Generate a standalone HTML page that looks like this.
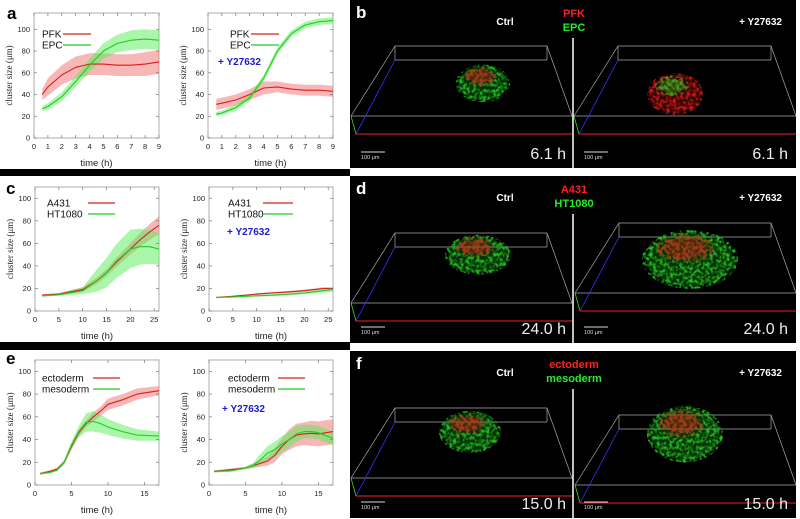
<!DOCTYPE html>
<html><head><meta charset="utf-8"><style>
html,body{margin:0;padding:0;background:#fff;}
svg{display:block;font-family:"Liberation Sans",sans-serif;}
.tk{font-size:7.5px;fill:#222;}
.yl{font-family:"Liberation Serif",serif;font-size:9px;fill:#222;}
.xl{font-size:9.5px;fill:#222;}
.lg{font-size:10px;fill:#111;}
.drug{font-size:10px;font-weight:bold;fill:#1a1ad0;}
.pl{font-size:17px;font-weight:bold;}
</style></head><body>
<svg id="fig" width="800" height="519" viewBox="0 0 800 519" xmlns="http://www.w3.org/2000/svg">
<defs>
<filter id="grain" x="-20%" y="-20%" width="140%" height="140%"><feTurbulence type="fractalNoise" baseFrequency="0.3" numOctaves="2" seed="3" result="n"/><feColorMatrix in="n" type="matrix" values="0 0 0 0 0 0 0 0 0 0 0 0 0 0 0 0 0 0 3 -1.2" result="a"/><feComposite in="SourceGraphic" in2="a" operator="in"/></filter>
</defs>
<rect x="0" y="169" width="350" height="7" fill="#000"/>
<rect x="0" y="342" width="350" height="8" fill="#000"/>
<g id="charts"></g>
<g id="images"></g>
</svg>
<script>
// ---- chart data ----
const aTime=[0.6,1,2,3,4,5,6,7,8,9];
const aCtrlPFK=[40,47,58,65,68,68,67,67,68,70];
const aCtrlPFKErr=[5,8,9,10,10,10,10,10,11,11];
const aCtrlEPC=[27,29,38,52,67,80,87,90,91,90];
const aCtrlEPCErr=[2,3,4,5,6,7,8,9,9,9];
const aDrugPFK=[31,32,35,40,46,47,45,44,44,43];
const aDrugPFKErr=[5,5,5,5,6,5,5,5,5,5];
const aDrugEPC=[22,23,28,37,55,80,96,104,107,108];
const aDrugEPCErr=[2,2,3,3,3,3,3,3,3,3];
const aXTicks=[0,1,2,3,4,5,6,7,8,9];

const cTime=[1.5,5,10,13,15,17,20,22,24,26];
const cCtrlA431=[14,15,19,27,34,43,55,63,70,76];
const cCtrlA431Err=[1,1,2,3,3,4,5,6,7,8];
const cCtrlHT=[13.5,14.5,18,27,34,44,55,57,57,55];
const cCtrlHTErr=[1,1,3,10,13,15,17,16,15,14];
const cDrugA431=[12,13,15,16,16.5,17,18,19,20,20];
const cDrugA431Err=[0.6,0.6,0.7,0.8,0.8,0.9,1,1,1.2,1.2];
const cDrugHT=[12,12.5,13.5,14,14.5,15,16,17,18,19];
const cDrugHTErr=[0.6,0.6,0.8,0.9,1,1,1.2,1.4,1.6,1.8];
const cXTicks=[0,5,10,15,20,25];

const eCtrlTime=[0.7,2,3,4,5,6,7,8,9,10,12,14,17];
const eCtrlEcto=[10,12,14,20,34,46,54,60,65,71,75,80,83];
const eCtrlEctoErr=[1,1,1,2,3,3,3,4,4,5,5,5,4];
const eCtrlMeso=[10,11,13,20,35,47,55,56,54,51,47,44,43];
const eCtrlMesoErr=[1,1,1,2,3,5,8,9,8,7,6,5,4];
const eDrugTime=[0.7,3,5,6,7,8,9,10,11,12,13,14,15,17];
const eDrugEcto=[12,13.5,15,17,19,21,26,34,40,44,45,45.5,45,47];
const eDrugEctoErr=[1,1,1,2,3,4,6,7,9,10,10,11,11,11];
const eDrugMeso=[12,12.5,15,17,22,28,31,36,40,45,47,47,46,41];
const eDrugMesoErr=[1,1,1,2,5,6,7,7,7,7,6,6,6,6];
const eXTicks=[0,5,10,15];
const yTicks=[0,20,40,60,80,100];

const NS="http://www.w3.org/2000/svg";
function mk(tag,attrs,parent,text){const e=document.createElementNS(NS,tag);for(const k in attrs)e.setAttribute(k,attrs[k]);if(text!==undefined)e.textContent=text;parent.appendChild(e);return e;}
const charts=document.getElementById('charts');

function chart(name,box,xmax,ymax,xticks,time,series,legend,legY,legX,lineX,drug,xlabelY){
  const g=mk('g',{},charts);
  
  
  const sx=v=>box.x0+(v/xmax)*(box.x1-box.x0);
  const sy=v=>box.y1-(v/ymax)*(box.y1-box.y0);
  const fr=mk('rect',{x:box.x0,y:box.y0,width:box.x1-box.x0,height:box.y1-box.y0,fill:'none',stroke:'#999','stroke-width':0.8},g);
  
  
  series.forEach(s=>{
    let d='';
    time.forEach((t,i)=>{d+=(i?'L':'M')+sx(t).toFixed(1)+','+sy(s.v[i]+s.e[i]).toFixed(1);});
    for(let i=time.length-1;i>=0;i--)d+='L'+sx(time[i]).toFixed(1)+','+sy(s.v[i]-s.e[i]).toFixed(1);
    const b=mk('path',{d:d+'Z',fill:s.band,'fill-opacity':0.5,stroke:'none'},g);
    
    
  });
  series.forEach(s=>{
    const pts=time.map((t,i)=>sx(t).toFixed(1)+','+sy(s.v[i]).toFixed(1)).join(' ');
    const l=mk('polyline',{points:pts,fill:'none',stroke:s.col,'stroke-width':1.1,'stroke-linejoin':'round'},g);
    
    
  });
  yTicks.forEach(v=>{
    const y=sy(v);
    mk('line',{x1:box.x0,x2:box.x0+3,y1:y,y2:y,stroke:'#777','stroke-width':0.7},g);
    mk('line',{x1:box.x1,x2:box.x1-3,y1:y,y2:y,stroke:'#777','stroke-width':0.7},g);
    const t=mk('text',{x:box.x0-4,y:y+2.5,'text-anchor':'end',class:'tk'},g,String(v));
    
    
  });
  xticks.forEach(v=>{
    const x=sx(v);
    mk('line',{x1:x,x2:x,y1:box.y1,y2:box.y1-3,stroke:'#777','stroke-width':0.7},g);
    mk('line',{x1:x,x2:x,y1:box.y0,y2:box.y0+3,stroke:'#777','stroke-width':0.7},g);
    const t=mk('text',{x:x,y:box.y1+11,'text-anchor':'middle',class:'tk'},g,String(v));
    
    
  });
  const yt=mk('text',{x:0,y:0,transform:`translate(${box.x0-22},${(box.y0+box.y1)/2}) rotate(-90)`,'text-anchor':'middle',class:'yl'},g,'cluster size (μm)');
  
  
  const xt=mk('text',{x:(box.x0+box.x1)/2,y:xlabelY,'text-anchor':'middle',class:'xl'},g,'time (h)');
  
  
  series.forEach((s,i)=>{
    const y=legY+i*11;
    const lt=mk('text',{x:legX,y:y+3.5,class:'lg'},g,s.label);
    
    
    const ll=mk('line',{x1:lineX[0],x2:lineX[1],y1:y,y2:y,stroke:s.col,'stroke-width':1.3},g);
    
    
  });
  if(drug){
    const dt=mk('text',{x:drug[0],y:drug[1],class:'drug'},g,'+ Y27632');
    
    
  }
}
const R='#d42020',RB='#f07070',G='#22cc22',GB='#55ee55';
chart('chart-a-ctrl',{x0:34,x1:159,y0:13,y1:138},9,115,aXTicks,aTime,
 [{id:'pfk',label:'PFK',v:aCtrlPFK,e:aCtrlPFKErr,col:R,band:RB},{id:'epc',label:'EPC',v:aCtrlEPC,e:aCtrlEPCErr,col:G,band:GB}],
 null,34,42,[63,91],null,166);
chart('chart-a-drug',{x0:208,x1:333,y0:13,y1:138},9,115,aXTicks,aTime,
 [{id:'pfk',label:'PFK',v:aDrugPFK,e:aDrugPFKErr,col:R,band:RB},{id:'epc',label:'EPC',v:aDrugEPC,e:aDrugEPCErr,col:G,band:GB}],
 null,34,230,[251,279],[218,65],166);
chart('chart-c-ctrl',{x0:35,x1:159,y0:187,y1:311},26,110,cXTicks,cTime,
 [{id:'a431',label:'A431',v:cCtrlA431,e:cCtrlA431Err,col:R,band:RB},{id:'ht1080',label:'HT1080',v:cCtrlHT,e:cCtrlHTErr,col:G,band:GB}],
 null,203,47,[88,115],null,339);
chart('chart-c-drug',{x0:209,x1:333,y0:187,y1:311},26,110,cXTicks,cTime,
 [{id:'a431',label:'A431',v:cDrugA431,e:cDrugA431Err,col:R,band:RB},{id:'ht1080',label:'HT1080',v:cDrugHT,e:cDrugHTErr,col:G,band:GB}],
 null,203,228,[263,293],[227,235],339);
chart('chart-e-ctrl',{x0:35,x1:159,y0:360,y1:485},17,110,eXTicks,eCtrlTime,
 [{id:'ectoderm',label:'ectoderm',v:eCtrlEcto,e:eCtrlEctoErr,col:R,band:RB},{id:'mesoderm',label:'mesoderm',v:eCtrlMeso,e:eCtrlMesoErr,col:G,band:GB}],
 null,378,42,[93,120],null,513);
chart('chart-e-drug',{x0:209,x1:333,y0:360,y1:485},17,110,eXTicks,eDrugTime,
 [{id:'ectoderm',label:'ectoderm',v:eDrugEcto,e:eDrugEctoErr,col:R,band:RB},{id:'mesoderm',label:'mesoderm',v:eDrugMeso,e:eDrugMesoErr,col:G,band:GB}],
 null,378,228,[278,305],[222,412],513);
[['a',7,19],['c',6,194],['e',6,364]].forEach(p=>{
  const t=mk('text',{x:p[1],y:p[2],class:'pl',fill:'#000'},charts,p[0]);
  
  
});

// ---- microscopy panels ----
const images=document.getElementById('images');
function cube(g,ox,oy,w){
  const L=ox,Rr=ox+w;
  mk('polyline',{points:`${L},${oy+70} ${L+44},${oy} ${Rr-25},${oy} ${Rr},${oy+70} ${L},${oy+70}`,fill:'none',stroke:'#aaa','stroke-width':0.7},g);
  mk('line',{x1:L+44,y1:oy+14,x2:Rr-25,y2:oy+14,stroke:'#aaa','stroke-width':0.7},g);
  mk('line',{x1:L+44,y1:oy,x2:L+44,y2:oy+14,stroke:'#aaa','stroke-width':0.7},g);
  mk('line',{x1:Rr-25,y1:oy,x2:Rr-25,y2:oy+14,stroke:'#aaa','stroke-width':0.7},g);
  mk('line',{x1:L+44,y1:oy+14,x2:L+5,y2:oy+88,stroke:'#3333ff','stroke-width':0.8},g);
  mk('line',{x1:L,y1:oy+70,x2:L+5,y2:oy+88,stroke:'#33dd33','stroke-width':0.8},g);
  mk('line',{x1:L+5,y1:oy+88,x2:Rr,y2:oy+88,stroke:'#ee2222','stroke-width':0.9},g);
}
function blob(g,cx,cy,rx,ry,redFirst){
  const a=redFirst?'#d01818':'#20c020', b=redFirst?'#20c020':'#d01818';
  mk('ellipse',{cx:cx,cy:cy+ry*0.3,rx:rx,ry:ry*1.05,fill:b,filter:'url(#grain)'},g);
  mk('ellipse',{cx:cx,cy:cy+ry*0.3,rx:rx*0.9,ry:ry*0.95,fill:b,'fill-opacity':0.25},g);
  mk('ellipse',{cx:cx-rx*0.1,cy:cy-ry*0.1,rx:rx*0.6,ry:ry*0.5,fill:a,'fill-opacity':0.8,filter:'url(#grain)'},g);
  mk('ellipse',{cx:cx-rx*0.1,cy:cy-ry*0.1,rx:rx*0.45,ry:ry*0.35,fill:a,'fill-opacity':0.35},g);
}
function panel(letter,y0,h,names,redName,greenName,time,blobs,cubes){
  const g=mk('g',{},images);
  
  
  mk('rect',{x:350,y:y0,width:446,height:h,fill:'#000'},g);
  cubes.forEach(c=>cube(g,c[0],y0+c[1],c[2]));
  blobs.forEach(b=>blob(g,b[0],y0+b[1],b[2],b[3],b[4]));
  mk('line',{x1:573,x2:573,y1:y0+38,y2:y0+h,stroke:'#fff','stroke-width':1.5},g);
  const pl=mk('text',{x:356,y:y0+18,class:'pl',fill:'#fff'},g,letter);
  
  
  const c1=mk('text',{x:505,y:y0+25,'text-anchor':'middle','font-size':'10px','font-weight':'bold',fill:'#fff'},g,'Ctrl');
  
  
  const c2=mk('text',{x:782,y:y0+25,'text-anchor':'end','font-size':'10px','font-weight':'bold',fill:'#fff'},g,'+ Y27632');
  
  
  const r=mk('text',{x:574,y:y0+17,'text-anchor':'middle','font-size':'11px','font-weight':'bold',fill:'#ff2020'},g,redName);
  
  
  const gr=mk('text',{x:574,y:y0+31,'text-anchor':'middle','font-size':'11px','font-weight':'bold',fill:'#22ee22'},g,greenName);
  
  
  [[361,566],[584,788]].forEach((p,i)=>{
    mk('line',{x1:p[0],x2:p[0]+24,y1:y0+h-16,y2:y0+h-16,stroke:'#ddd','stroke-width':1},g);
    const s=mk('text',{x:p[0],y:y0+h-9,'font-size':'5.5px',fill:'#ddd'},g,'100 μm');
    
    
    const t=mk('text',{x:p[1],y:y0+h-9,'text-anchor':'end','font-size':'16px',fill:'#eee'},g,time);
    
    
  });
}
panel('b',0,168,null,'PFK','EPC','6.1 h',
 [[483,78,27,18,true],[675,88,28,20,false]],
 [[351,46,221],[574,46,222]]);
panel('d',176,167,null,'A431','HT1080','24.0 h',
 [[478,73,33,19,true],[690,75,48,28,true]],
 [[351,57,221],[575,47,221]]);
panel('f',351,167,null,'ectoderm','mesoderm','15.0 h',
 [[470,75,31,20,true],[685,75,38,27,true]],
 [[351,57,221],[575,64,221]]);
</script>
</body></html>
